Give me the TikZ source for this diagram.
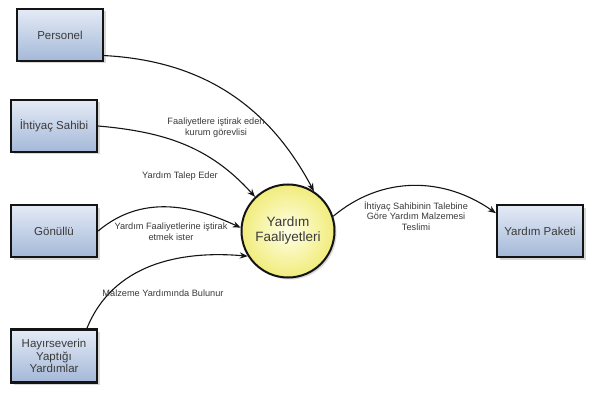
\documentclass[tikz,border=0pt]{standalone}
\usepackage{fontspec}
\setmainfont{Liberation Sans}
\usetikzlibrary{arrows.meta,shadows}
\definecolor{ink}{HTML}{141414}
\definecolor{ink2}{HTML}{3A3A3A}
\definecolor{bhi}{HTML}{E4EBF6}
\definecolor{blo}{HTML}{A4B8D8}
\definecolor{yhi}{HTML}{FFFFE6}
\definecolor{ylo}{HTML}{F1EC7C}
\tikzset{
  >={Stealth[length=2.8mm,width=2.2mm]},
  ent/.style={draw=ink,line width=2.2pt,top color=bhi,bottom color=blo,
    minimum width=86pt,minimum height=52pt,align=center,text=ink2,
    font=\fontsize{11.5}{12.5}\selectfont,
    drop shadow={shadow xshift=2.5pt,shadow yshift=-2.5pt,fill=black!30}},
  proc/.style={circle,draw=ink,line width=2pt,inner color=yhi,outer color=ylo,
    minimum size=93pt,align=center,text=ink2,
    font=\fontsize{13.5}{15}\selectfont,
    drop shadow={shadow xshift=2pt,shadow yshift=-2pt,fill=black!30}},
  flow/.style={->,draw=ink,line width=1.1pt},
  lab/.style={font=\fontsize{9.2}{10.8}\selectfont,text=ink2,align=center},
}
\begin{document}
\begin{tikzpicture}[x=1pt,y=1pt]
  \useasboundingbox[fill=white] (0,0) rectangle (592,-401);
  \node[ent] (per) at (60,-35) {Personel};
  \node[ent] (ihs) at (54,-126) {İhtiyaç Sahibi};
  \node[ent] (gon) at (54,-231) {Gönüllü};
  \node[ent,minimum height=53pt] (hay) at (54,-356) {Hayırseverin\\Yaptığı\\Yardımlar};
  \node[proc] (act) at (288,-231) {Yardım\\Faaliyetleri};
  \node[ent] (pak) at (540,-231) {Yardım Paketi};
  \draw[flow] (per.-25) to[out=-3,in=118] (act.57);
  \draw[flow] (ihs.east) to[out=-5,in=132] (act.134);
  \draw[flow] (gon.east) to[out=40,in=155] (act.176);
  \draw[flow] (hay.40) to[out=68,in=175] (act.212);
  \draw[flow] (act.18) to[out=40,in=145] (pak.158);
  \node[lab] (l1) at (216,-128) {Faaliyetlere iştirak eden\\kurum görevlisi};
  \node[lab] (l2) at (180,-176) {Yardım Talep Eder};
  \node[lab] (l3) at (171,-232) {Yardım Faaliyetlerine iştirak\\etmek ister};
  \node[lab] (l4) at (163,-293) {Malzeme Yardımında Bulunur};
  \node[lab] (l5) at (416,-216) {İhtiyaç Sahibinin Talebine\\Göre Yardım Malzemesi\\Teslimi};
\end{tikzpicture}
\end{document}
